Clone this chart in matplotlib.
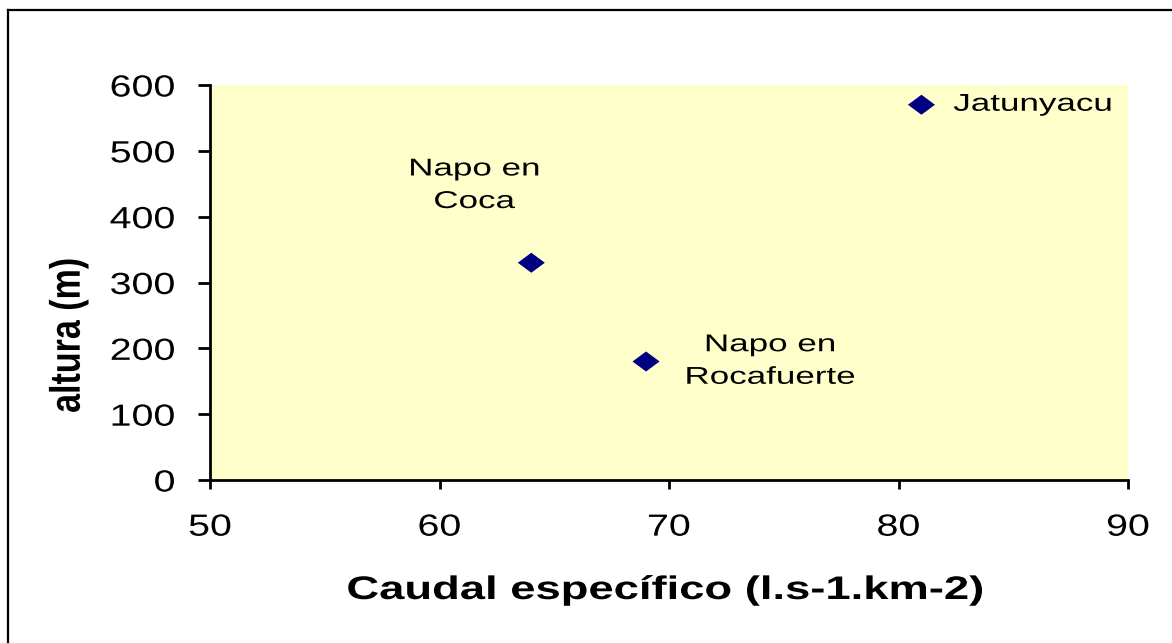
import matplotlib
matplotlib.use("Agg")
import matplotlib.pyplot as plt
from matplotlib.patheffects import AbstractPathEffect
from matplotlib.transforms import Affine2D
from matplotlib.lines import Line2D

# ---- data ----
caudal = [64, 69, 81]
altura = [330, 180, 570]
names = ["Napo en\nCoca", "Napo en\nRocafuerte", "Jatunyacu"]
xticks = [50, 60, 70, 80, 90]
yticks = [0, 100, 200, 300, 400, 500, 600]
xlabel = "Caudal específico (l.s-1.km-2)"
ylabel = "altura (m)"


class HStretch(AbstractPathEffect):
    """Stretch rendered text horizontally (display space) about an anchor."""
    def __init__(self, sx, anchor="center"):
        super().__init__()
        self.sx = sx
        self.anchor = anchor

    def draw_path(self, renderer, gc, tpath, affine, rgbFace=None):
        try:
            bb = tpath.get_extents(affine)
            x0 = {"left": bb.x0, "right": bb.x1}.get(self.anchor, (bb.x0 + bb.x1) / 2)
        except Exception:
            x0 = 0
        t = affine + Affine2D().translate(-x0, 0).scale(self.sx, 1).translate(x0, 0)
        renderer.draw_path(gc, tpath, t, rgbFace)


W, H = 1172, 643
fig = plt.figure(figsize=(W / 100, H / 100), dpi=100)
fig.patch.set_facecolor("white")

ax = fig.add_axes([210 / W, 1 - 480 / H, 918 / W, 395 / H])
ax.set_facecolor("#FFFFCC")

# diamond marker, wider than tall
diamond = [(-1, 0), (0, 0.74), (1, 0), (0, -0.74), (-1, 0)]
ax.scatter(caudal, altura, marker=diamond, s=19.5 ** 2, color="#000080",
           edgecolors="none", zorder=3, clip_on=False)

ax.set_xlim(50, 90)
ax.set_ylim(0, 600)
ax.set_xticks(xticks)
ax.set_yticks(yticks)

for side in ("top", "right"):
    ax.spines[side].set_visible(False)
for side in ("left", "bottom"):
    ax.spines[side].set_linewidth(2.0)
    ax.spines[side].set_color("black")

ax.tick_params(axis="y", direction="out", length=8.5, width=2.0, pad=16.5,
               labelsize=22, colors="black")
ax.tick_params(axis="x", direction="out", length=6.5, width=2.0, pad=17,
               labelsize=22, colors="black")

for lab in ax.get_yticklabels():
    lab.set_fontfamily("Liberation Sans")
    lab.set_path_effects([HStretch(1.29, "right")])
for lab in ax.get_xticklabels():
    lab.set_fontfamily("Liberation Sans")
    lab.set_path_effects([HStretch(1.29, "center")])

# point labels
offsets = [(-57, 77, "center"), (124, 0, "center"), (32, 0, "left")]
for x, y, name, (dx, dy, ha) in zip(caudal, altura, names, offsets):
    t = ax.annotate(name, (x, y), xytext=(dx, dy), textcoords="offset pixels",
                    ha=ha, va="center", fontsize=17.5, family="Liberation Sans",
                    color="black", linespacing=1.62, multialignment="center")
    t.set_path_effects([HStretch(1.44, ha)])

# axis titles
xl = fig.text(665 / W, 1 - 599 / H, xlabel, ha="center", va="baseline",
              fontsize=23.5, fontweight="bold", family="Liberation Sans")
xl.set_path_effects([HStretch(1.39, "center")])
yl = fig.text(69 / W, 1 - 335.5 / H, ylabel, ha="center", va="center",
              rotation=90, fontsize=24.5, fontweight="bold",
              family="Liberation Sans")
yl.set_path_effects([HStretch(1.25, "center")])

# outer frame (left and top edges visible)
fig.add_artist(Line2D([7.5 / W, 7.5 / W], [0, 1 - 10 / H], transform=fig.transFigure,
                      color="black", lw=1.6))
fig.add_artist(Line2D([7.5 / W, 1], [1 - 10 / H, 1 - 10 / H], transform=fig.transFigure,
                      color="black", lw=1.6))

fig.savefig("out.png", dpi=100)
